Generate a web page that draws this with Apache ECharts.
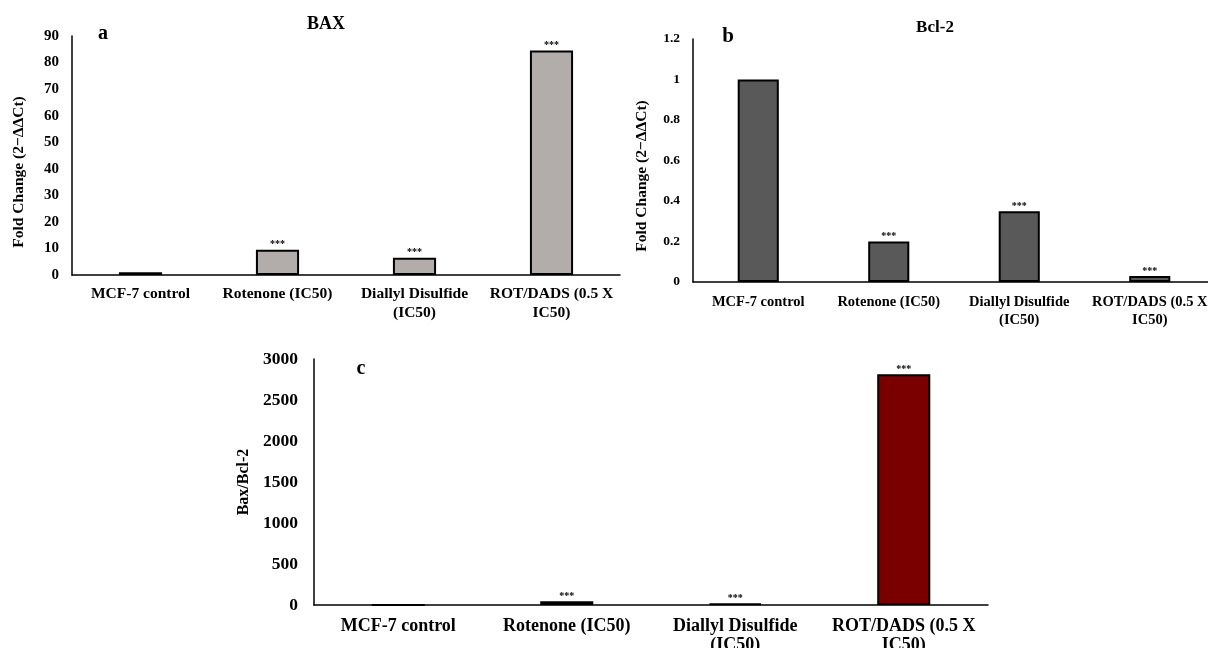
<!DOCTYPE html>
<html><head><meta charset="utf-8">
<script src="https://cdn.jsdelivr.net/npm/echarts@6/dist/echarts.min.js"></script>
<style>html,body{margin:0;padding:0;background:#fff}#c{width:1208px;height:648px}</style>
</head><body><div id="c"></div>
<script>
const categories = ['MCF-7 control', 'Rotenone (IC50)', 'Diallyl Disulfide\n(IC50)', 'ROT/DADS (0.5 X\nIC50)'];
const baxValues = [1, 9.5, 6.5, 84.5];
const bcl2Values = [1, 0.2, 0.35, 0.03];
const ratioValues = [1, 47, 19, 2815];
const significance = ['', '***', '***', '***'];
const baxTicks = {min: 0, max: 90, interval: 10};
const bcl2Ticks = {min: 0, max: 1.2, interval: 0.2};
const ratioTicks = {min: 0, max: 3000, interval: 500};

const FF = 'Liberation Serif, Times New Roman, serif';
const chart = echarts.init(document.getElementById('c'), null, {renderer: 'canvas'});

function xAx(idx, fs, margin, lh) {
  return {type: 'category', gridIndex: idx, data: categories,
    axisLine: {show: true, lineStyle: {color: '#000', width: 1.5}},
    axisTick: {show: false},
    axisLabel: {interval: 0, color: '#000', fontFamily: FF, fontWeight: 'bold', fontSize: fs, margin: margin, lineHeight: lh}};
}
function yAx(idx, ticks, name, fs, margin, nameFs, gap, pad, fmt) {
  return {type: 'value', gridIndex: idx, min: ticks.min, max: ticks.max, interval: ticks.interval,
    name: name, nameLocation: 'middle', nameGap: gap, nameRotate: 90,
    nameTextStyle: {color: '#000', fontFamily: FF, fontWeight: 'bold', fontSize: nameFs, padding: pad},
    axisLine: {show: true, lineStyle: {color: '#000', width: 1.5}},
    axisTick: {show: false}, splitLine: {show: false},
    axisLabel: {color: '#000', fontFamily: FF, fontWeight: 'bold', fontSize: fs, margin: margin, formatter: fmt}};
}
function barSeries(idx, values, color) {
  return {type: 'bar', xAxisIndex: idx, yAxisIndex: idx, data: values, barWidth: '31.5%',
    itemStyle: {color: color, borderColor: '#000', borderWidth: 2},
    label: {show: true, position: 'top', distance: 0, color: '#000', fontFamily: FF, fontWeight: 'bold', fontSize: 10,
      formatter: p => significance[p.dataIndex]}};
}

chart.setOption({
  backgroundColor: '#fff',
  animation: false,
  title: [
    {text: 'BAX', left: 321, top: 10, textAlign: 'center', textStyle: {fontFamily: FF, fontWeight: 'bold', fontSize: 18, color: '#000'}},
    {text: 'Bcl-2', left: 930, top: 14, textAlign: 'center', textStyle: {fontFamily: FF, fontWeight: 'bold', fontSize: 17, color: '#000'}},
    {text: 'a', left: 98, top: 19, textAlign: 'center', textStyle: {fontFamily: FF, fontWeight: 'bold', fontSize: 20, color: '#000'}},
    {text: 'b', left: 723, top: 21, textAlign: 'center', textStyle: {fontFamily: FF, fontWeight: 'bold', fontSize: 21, color: '#000'}},
    {text: 'c', left: 356, top: 354, textAlign: 'center', textStyle: {fontFamily: FF, fontWeight: 'bold', fontSize: 20, color: '#000'}}
  ],
  grid: [
    {left: 72, top: 36, width: 548, height: 239, containLabel: false, outerBoundsMode: 'none'},
    {left: 693, top: 39, width: 522, height: 243, containLabel: false, outerBoundsMode: 'none'},
    {left: 314, top: 359, width: 674, height: 246, containLabel: false, outerBoundsMode: 'none'}
  ],
  xAxis: [xAx(0, 15.5, 9, 19), xAx(1, 14.5, 11, 18), xAx(2, 18, 12, 19)],
  yAxis: [
    yAx(0, baxTicks, 'Fold Change (2−ΔΔCt)', 15, 13, 15.5, 45, [0, 33, 0, 0]),
    yAx(1, bcl2Ticks, 'Fold Change (2−ΔΔCt)', 13.5, 13, 15.5, 43, [0, 31, 0, 0], v => String(Math.round(v * 10) / 10)),
    yAx(2, ratioTicks, 'Bax/Bcl-2', 17.5, 16, 16, 59, [0, 0, 0, 0], v => String(v))
  ],
  series: [
    barSeries(0, baxValues, '#b2adab'),
    barSeries(1, bcl2Values, '#595959'),
    Object.assign(barSeries(2, ratioValues, '#7a0000'), {
      data: ratioValues.map((v, i) => ({value: v, itemStyle: {color: i === 3 ? '#7a0000' : '#1a1a1a'}}))
    })
  ]
});
</script></body></html>
